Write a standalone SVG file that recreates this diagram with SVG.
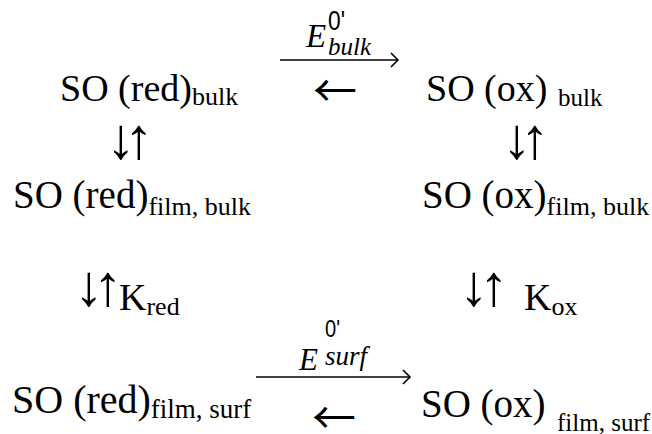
<svg xmlns="http://www.w3.org/2000/svg" width="652" height="434" viewBox="0 0 652 434">
<style>
text{font-family:"Liberation Serif","Times New Roman",serif;fill:#000}
.m{font-size:38px}
.m2{font-size:39px}
.m3{font-size:40px}
.s{font-size:25px}
.s2{font-size:26px}
.s3{font-size:27px}
.ar{font-size:58px;text-anchor:middle}
.ah{font-family:"Noto Sans CJK JP",sans-serif;font-size:44px;text-anchor:middle}
.it{font-style:italic}
.sup{font-family:"Liberation Sans",Arial,sans-serif}
.ln{stroke:#000;stroke-width:1.6;fill:none}
</style>
<defs>
<marker id="hd" markerWidth="12" markerHeight="20" refX="9" refY="10" orient="auto" markerUnits="userSpaceOnUse">
<path d="M2,3 L9,10 L2,17" fill="none" stroke="#000" stroke-width="1.6"/>
</marker>
</defs>
<rect width="652" height="434" fill="#fff"/>
<g id="red_bulk"><text x="60" y="101" class="m">SO (red)<tspan class="s2" dy="4">bulk</tspan></text></g>
<g id="ox_bulk"><text x="426" y="101" class="m">SO (ox)<tspan class="s" x="558" dy="5">bulk</tspan></text></g>
<g id="red_film_bulk"><text x="13" y="208" class="m2">SO (red)<tspan class="s2" dy="7">film, bulk</tspan></text></g>
<g id="ox_film_bulk"><text x="422" y="208" class="m2">SO (ox)<tspan class="s2" dy="7">film, bulk</tspan></text></g>
<g id="red_film_surf"><text x="12" y="413" class="m3">SO (red)<tspan class="s3" dy="5">film, surf</tspan></text></g>
<g id="ox_film_surf"><text x="421" y="417" class="m2">SO (ox)<tspan class="s" x="557" dy="14">film, surf</tspan></text></g>
<g id="connectors">
<line class="ln" x1="280" y1="60" x2="398" y2="60" marker-end="url(#hd)"/>
<text x="306" y="47" class="it" font-size="33">E</text>
<text x="328" y="30" class="sup" font-size="28" textLength="17" lengthAdjust="spacingAndGlyphs">0'</text>
<text x="328" y="55" class="it" font-size="25">bulk</text>
<text x="335" y="107" class="ah">←</text>
<text x="121" y="158" class="ar">↓</text><text x="139" y="158" class="ar">↑</text>
<text x="517" y="158" class="ar">↓</text><text x="535" y="158" class="ar">↑</text>
<text x="89" y="305" class="ar">↓</text><text x="108" y="305" class="ar">↑</text>
<text x="119" y="310" class="m">K<tspan class="s2" dy="5">red</tspan></text>
<text x="474" y="305" class="ar">↓</text><text x="494" y="305" class="ar">↑</text>
<text x="524" y="310" class="m">K<tspan class="s2" dy="5">ox</tspan></text>
<line class="ln" x1="256" y1="377" x2="410" y2="377" marker-end="url(#hd)"/>
<text x="299" y="370" class="it" font-size="31">E</text>
<text x="325" y="337" class="sup" font-size="23" textLength="15" lengthAdjust="spacingAndGlyphs">0'</text>
<text x="325" y="365" class="it" font-size="27">surf</text>
<text x="334" y="434" class="ah">←</text>
</g>
</svg>
